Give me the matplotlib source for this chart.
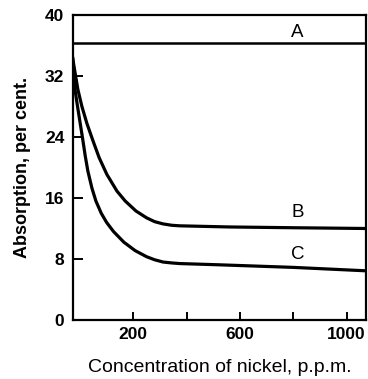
import matplotlib
matplotlib.use("Agg")
import matplotlib.pyplot as plt
from matplotlib.ticker import FixedLocator, NullFormatter

plt.rcParams['font.family'] = ['Liberation Sans', 'DejaVu Sans']

# Data
a_level = 36.3
b_x = [-27, -18, -7.5, 7.5, 26, 48, 72, 101, 139, 170, 210, 250, 280, 312, 345, 375, 562, 800, 1073]
b_y = [34.3, 32.4, 30.2, 28.0, 25.8, 23.6, 21.3, 19.1, 16.9, 15.6, 14.3, 13.4, 12.9, 12.6, 12.42, 12.35, 12.2, 12.1, 12.0]
c_x = [-27, -22, -17.6, -8, 1, 11, 20, 30, 45, 60, 80, 100, 126, 165, 207, 250, 280, 312, 345, 375, 512, 800, 1073]
c_y = [34.3, 32.0, 30.0, 27.8, 25.8, 23.6, 21.5, 19.5, 17.3, 15.6, 14.0, 12.8, 11.6, 10.2, 9.1, 8.3, 7.9, 7.6, 7.48, 7.4, 7.25, 6.9, 6.45]
labels = ["A", "B", "C"]
label_x = [814, 818, 818]
label_y = [37.75, 14.1, 8.6]
x_major = [200, 600, 1000]
x_minor = [400, 800]
y_ticks = [0, 8, 16, 24, 32, 40]

fig = plt.figure(figsize=(3.68, 3.79), dpi=100)
ax = fig.add_axes([0.1976, 0.1557, 0.797, 0.8047])
ax.set_xlim(-27, 1073)
ax.set_ylim(0, 40)

ax.axhline(a_level, color='black', lw=1.8)
ax.plot(b_x, b_y, color='black', lw=2.3, solid_joinstyle='round')
ax.plot(c_x, c_y, color='black', lw=2.3, solid_joinstyle='round')

for t, x, y in zip(labels, label_x, label_y):
    ax.text(x, y, t, ha='center', va='center', fontsize=13.5)

for s in ax.spines.values():
    s.set_linewidth(1.6)

ax.xaxis.set_major_locator(FixedLocator(x_major))
ax.xaxis.set_minor_locator(FixedLocator(x_minor))
ax.xaxis.set_minor_formatter(NullFormatter())
ax.set_yticks(y_ticks)
ax.tick_params(axis='both', which='both', direction='in', width=1.4,
               top=False, right=False)
ax.tick_params(axis='x', which='both', length=6, pad=5)
ax.tick_params(axis='y', length=7, pad=6)
for lab in ax.get_xticklabels() + ax.get_yticklabels():
    lab.set_fontweight('bold')
    lab.set_fontsize(12.5)

ax.set_xlabel('Concentration of nickel, p.p.m.', fontsize=14, labelpad=12)
ax.set_ylabel('Absorption, per cent.', fontsize=13, fontweight='bold', labelpad=10)

fig.savefig('out.png', dpi=100)
